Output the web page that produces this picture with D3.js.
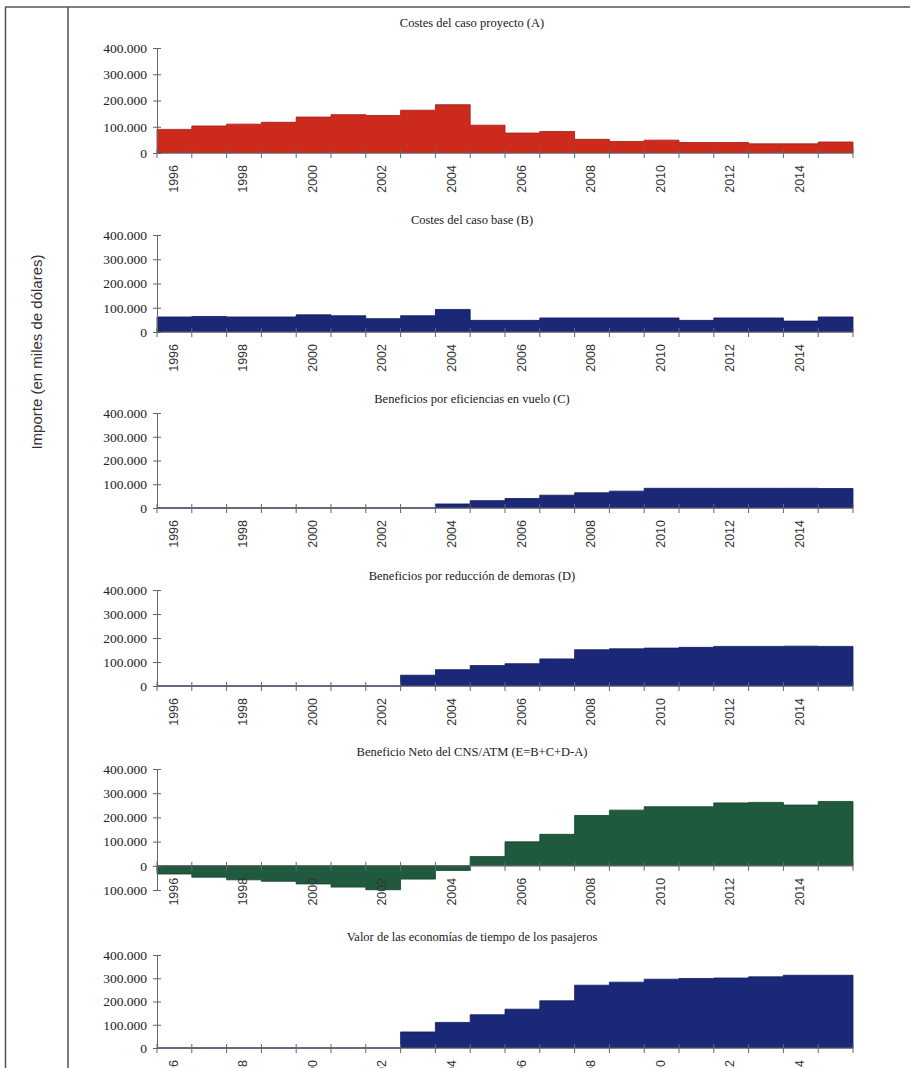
<!DOCTYPE html>
<html>
<head>
<meta charset="utf-8">
<script src="https://cdn.jsdelivr.net/npm/d3@7"></script>
<style>
  html, body { margin: 0; padding: 0; background: #fff; }
  svg { display: block; }
</style>
</head>
<body>
<svg id="chart" width="910" height="1068"></svg>
<script>
// ---- data ----
const years = d3.range(1996, 2016);
const labelYears = [1996, 1998, 2000, 2002, 2004, 2006, 2008, 2010, 2012, 2014];
const yTicks = [-100000, 0, 100000, 200000, 300000, 400000];

const titles = [
  "Costes del caso proyecto (A)",
  "Costes del caso base (B)",
  "Beneficios por eficiencias en vuelo (C)",
  "Beneficios por reducción de demoras (D)",
  "Beneficio Neto del CNS/ATM (E=B+C+D-A)",
  "Valor de las economías de tiempo de los pasajeros"
];

const costsA    = [90000, 103000, 110000, 117000, 137000, 146000, 143000, 163000, 184000, 106000, 76000, 82000, 52000, 44000, 49000, 40000, 40000, 35000, 35000, 42000];
const costsB    = [62000, 64000, 62000, 62000, 71000, 67000, 55000, 67000, 93000, 48000, 48000, 58000, 58000, 58000, 58000, 48000, 58000, 58000, 45000, 62000];
const benefitsC = [0, 0, 0, 0, 0, 0, 0, 0, 17000, 31000, 40000, 54000, 64000, 71000, 83000, 83000, 83000, 83000, 83000, 82000];
const benefitsD = [0, 0, 0, 0, 0, 0, 0, 45000, 68000, 85000, 93000, 113000, 151000, 155000, 158000, 161000, 165000, 165000, 166000, 165000];
const netE      = [-34000, -47000, -58000, -64000, -75000, -88000, -99000, -55000, -19000, 38000, 99000, 130000, 208000, 230000, 244000, 244000, 260000, 262000, 251000, 266000];
const timeValue = [0, 0, 0, 0, 0, 0, 0, 69000, 110000, 143000, 167000, 203000, 270000, 283000, 296000, 299000, 301000, 306000, 313000, 313000];

const seriesList = [costsA, costsB, benefitsC, benefitsD, netE, timeValue];

// ---- layout / style ----
const fills   = ["#cc2a1d", "#1b2878", "#1b2878", "#1b2878", "#1f5a3e", "#1b2878"];
const strokes = ["#9e1c12", "#111a5c", "#111a5c", "#111a5c", "#143f2b", "#111a5c"];
const panels = [
  { top: 48,  bottom: 153,  min: 0,       titleY: 24 },
  { top: 235, bottom: 332,  min: 0,       titleY: 221 },
  { top: 413, bottom: 508,  min: 0,       titleY: 400 },
  { top: 590, bottom: 686,  min: 0,       titleY: 577 },
  { top: 769, bottom: 890,  min: -100000, titleY: 753 },
  { top: 955, bottom: 1048, min: 0,       titleY: 938 }
];
const plotLeft = 157, plotRight = 853;
const serif = "'Liberation Serif', 'DejaVu Serif', serif";
const sans = "'Liberation Sans', Arial, sans-serif";

const svg = d3.select("#chart");

// frame
svg.append("line").attr("x1", 5).attr("x2", 910).attr("y1", 7).attr("y2", 7)
  .attr("stroke", "#555").attr("stroke-width", 1.5);
svg.append("line").attr("x1", 5.5).attr("x2", 5.5).attr("y1", 7).attr("y2", 1068)
  .attr("stroke", "#555").attr("stroke-width", 1.5);
svg.append("line").attr("x1", 68).attr("x2", 68).attr("y1", 7).attr("y2", 1068)
  .attr("stroke", "#555").attr("stroke-width", 1.5);

// y axis title
svg.append("text")
  .attr("transform", "translate(42,352) rotate(-90)")
  .attr("text-anchor", "middle")
  .attr("font-family", sans)
  .attr("font-size", 15)
  .attr("fill", "#333")
  .text("Importe (en miles de dólares)");

const x = d3.scaleBand().domain(years).range([plotLeft, plotRight]).padding(0);
const bw = x.bandwidth();
const fmt = v => d3.format(",")(Math.abs(v)).replace(/,/g, ".");

panels.forEach((p, i) => {
  const values = seriesList[i];
  const y = d3.scaleLinear().domain([p.min, 400000]).range([p.bottom, p.top]);
  const g = svg.append("g");

  // title
  g.append("text")
    .attr("x", 472).attr("y", p.titleY)
    .attr("text-anchor", "middle")
    .attr("dominant-baseline", "middle")
    .attr("font-family", serif)
    .attr("font-size", 12.5)
    .attr("fill", "#1a1a1a")
    .text(titles[i]);

  // step area
  const pts = years.map((yr, k) => ({ x: x(yr), v: values[k] }));
  pts.push({ x: x(years[years.length - 1]) + bw, v: values[values.length - 1] });
  const area = d3.area()
    .x(d => d.x)
    .y0(y(0))
    .y1(d => y(d.v))
    .curve(d3.curveStepAfter);
  g.append("path")
    .datum(pts)
    .attr("d", area)
    .attr("fill", fills[i])
    .attr("stroke", strokes[i])
    .attr("stroke-width", 0.8);

  // y axis
  const yAxis = d3.axisLeft(y)
    .tickValues(yTicks.filter(t => t >= p.min))
    .tickFormat(fmt)
    .tickSize(4)
    .tickPadding(6);
  const ya = g.append("g").attr("transform", `translate(${plotLeft},0)`).call(yAxis);
  ya.select(".domain").attr("stroke", "#666");
  ya.selectAll(".tick line").attr("x1", 4).attr("x2", -4).attr("stroke", "#666");
  ya.selectAll(".tick text")
    .attr("font-family", serif)
    .attr("font-size", 13.5)
    .attr("fill", "#222");

  // x axis (baseline at zero)
  const y0 = y(0);
  g.append("line")
    .attr("x1", plotLeft).attr("x2", plotRight)
    .attr("y1", y0).attr("y2", y0)
    .attr("stroke", "#666");
  const boundaries = years.map(yr => x(yr)).concat([plotRight]);
  g.selectAll("line.xt").data(boundaries).join("line")
    .attr("class", "xt")
    .attr("x1", d => d).attr("x2", d => d)
    .attr("y1", y0 - 4).attr("y2", y0 + 5)
    .attr("stroke", "#666");
  const xAxis = d3.axisBottom(x).tickValues(labelYears).tickSize(0);
  const xa = g.append("g").attr("transform", `translate(0,${y0})`).call(xAxis);
  xa.select(".domain").remove();
  xa.selectAll(".tick text")
    .attr("font-family", sans)
    .attr("font-size", 12.5)
    .attr("fill", "#333")
    .attr("text-anchor", "end")
    .attr("dominant-baseline", "middle")
    .attr("transform", "translate(0,12) rotate(-90)")
    .attr("x", 0).attr("y", 0).attr("dy", null);
});
</script>
</body>
</html>
